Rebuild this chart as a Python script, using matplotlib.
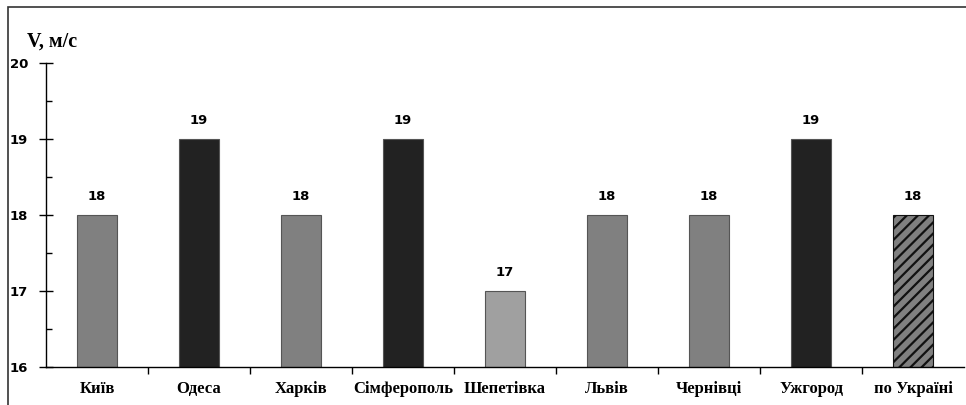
import numpy as np
import matplotlib
matplotlib.use('Agg')
import matplotlib.pyplot as plt
from matplotlib.patches import Rectangle

# Середня швидкість вітру по містах
cities = ['Київ', 'Одеса', 'Харків', 'Сімферополь', 'Шепетівка',
          'Львів', 'Чернівці', 'Ужгород', 'по Україні']
speeds = [18, 19, 18, 19, 17, 18, 18, 19, 18]
bar_colors = ['#808080', '#222222', '#808080', '#222222', '#a0a0a0',
              '#808080', '#808080', '#222222', '#808080']

plt.rcParams['hatch.linewidth'] = 1.6

fig = plt.figure(figsize=(9.66, 4.05), dpi=100)
ax = fig.add_axes([46 / 966, 38 / 405, 918 / 966, 304 / 405])

# рамка навколо діаграми
fig.patches.append(Rectangle((8 / 966, -0.05), 1.0, 1 - 7 / 405 + 0.05,
                             transform=fig.transFigure, fill=False,
                             edgecolor='#333333', linewidth=1.2))

x = np.arange(len(cities))
bars = ax.bar(x, speeds, width=0.4, bottom=0, color=bar_colors,
              edgecolor='#555555', linewidth=0.8)
bars[-1].set_hatch('///')
bars[-1].set_edgecolor('#111111')

for xi, v in zip(x, speeds):
    ax.annotate(f'{v}', (xi, v), xytext=(0, 12), textcoords='offset pixels',
                ha='center', va='bottom', fontsize=9.5, fontweight='bold',
                family='DejaVu Sans')

ax.set_xlim(-0.5, len(cities) - 0.5)
ax.set_ylim(16, 20)

ax.spines['top'].set_visible(False)
ax.spines['right'].set_visible(False)
ax.spines['left'].set_linewidth(1.0)
ax.spines['bottom'].set_linewidth(1.0)

ax.set_yticks([16, 17, 18, 19, 20])
ax.set_yticks(np.arange(16.5, 20, 1), minor=True)
ax.tick_params(axis='y', which='major', direction='inout', length=10, width=1,
               labelsize=9.5, pad=8)
ax.tick_params(axis='y', which='minor', direction='in', length=4, width=1)
for lbl in ax.get_yticklabels():
    lbl.set_fontweight('bold')

# мітки між категоріями на осі X
ax.set_xticks(np.arange(0.5, len(cities) - 0.5, 1))
ax.set_xticklabels([])
ax.tick_params(axis='x', which='major', direction='out', length=5, width=1)
for xi, name in zip(x, cities):
    ax.annotate(name, (xi, 16), xytext=(0, -22), textcoords='offset pixels',
                ha='center', va='center', fontsize=12, fontweight='bold',
                family='Liberation Serif', annotation_clip=False)

fig.text(27 / 966, 1 - 42 / 405, 'V, м/с', ha='left', va='center',
         fontsize=14.5, fontweight='bold', family='Liberation Serif')

fig.savefig('out.png', dpi=100)
